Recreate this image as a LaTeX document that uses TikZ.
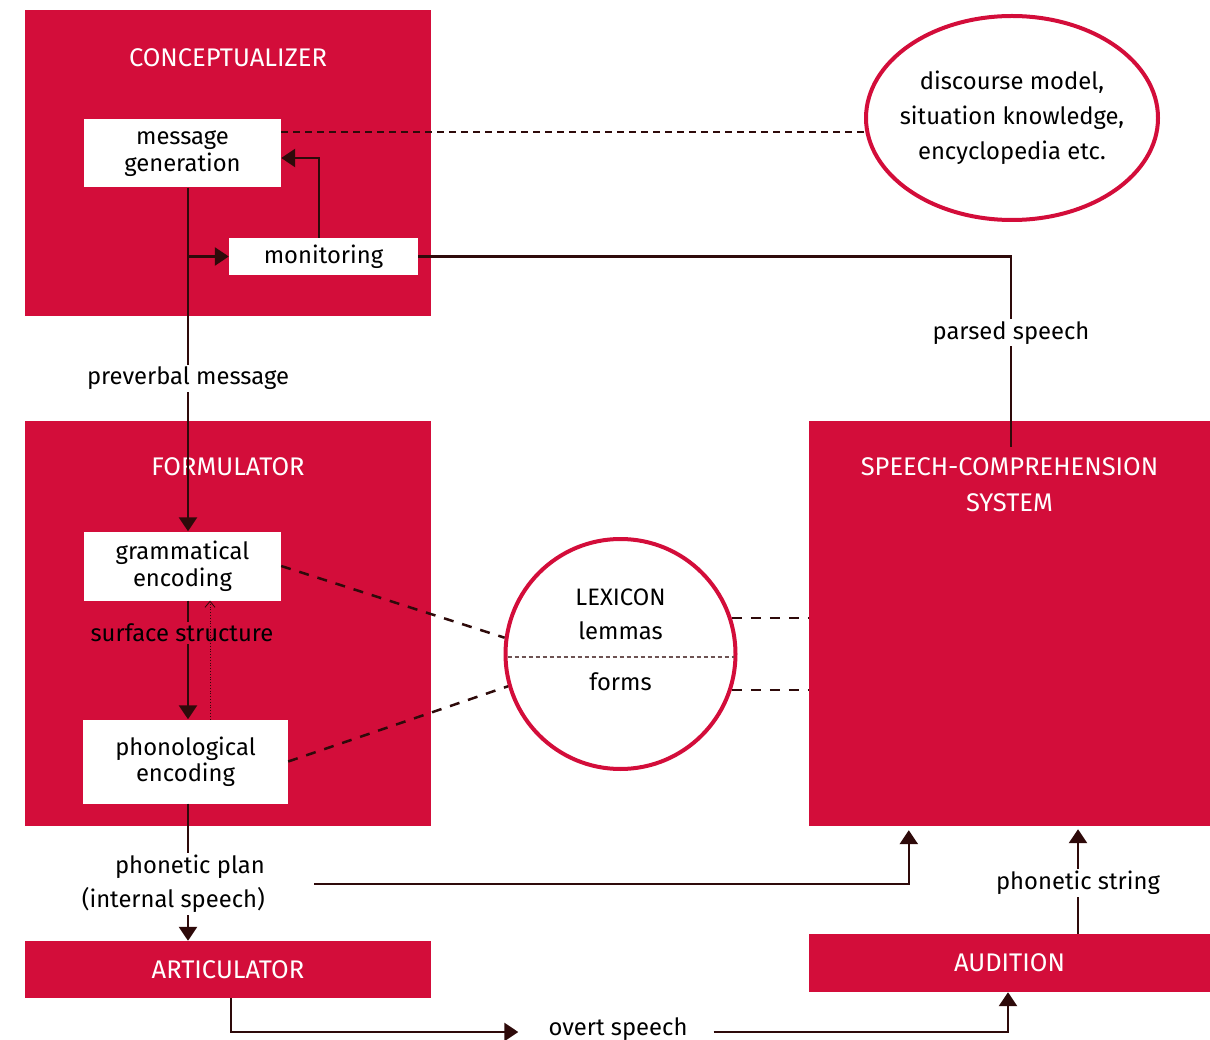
\documentclass[tikz,border=0pt]{standalone}
\usepackage{fontspec}
\setmainfont{Fira Sans}
\usetikzlibrary{arrows.meta, calc, shapes.geometric, positioning}
\definecolor{levred}{RGB}{211,13,58}
\definecolor{levline}{RGB}{46,10,10}

\begin{document}
\begin{tikzpicture}[x=1pt, y=-1pt,
  font=\fontsize{23.8}{26}\selectfont,
  module/.style={fill=levred, inner sep=0pt},
  component/.style={fill=white, inner sep=0pt, align=center, font=\fontsize{23.8}{26.5}\selectfont},
  title/.style={text=white, align=center, font=\fontsize{25.5}{36}\selectfont},
  store/.style={draw=levred, line width=4pt, fill=white, align=center, inner sep=0pt, font=\fontsize{23.8}{35}\selectfont},
  lbl/.style={fill=white, inner sep=2pt},
  flow/.style={draw=levline, line width=2.5pt, -{Triangle[width=18pt,length=14pt]}},
  link/.style={draw=levline, line width=2.5pt},
  dashlink/.style={draw=levline, line width=2.5pt, dash pattern=on 10pt off 9pt},
]
\useasboundingbox (0,0) rectangle (1210,1040);

% Processing components
\node[module, minimum width=406pt, minimum height=306pt] (concept) at (228,163) {};
\node[title] (concepttitle) at (228,58) {CONCEPTUALIZER};
\node[component, minimum width=197pt, minimum height=68pt] (msg) at (182.5,153.5) {message\\generation};
\node[component, minimum width=189pt, minimum height=37pt] (mon) at (323.5,256.5) {monitoring};
\node[store, ellipse, inner xsep=-11pt, minimum width=292pt, minimum height=204pt] (world) at (1012,118) {discourse model,\\situation knowledge,\\encyclopedia etc.};

\node[module, minimum width=406pt, minimum height=405pt] (form) at (228,623.5) {};
\node[title] (formtitle) at (228,467) {FORMULATOR};
\node[component, minimum width=197pt, minimum height=69pt] (gram) at (182.5,566) {grammatical\\encoding};
\node[component, minimum width=205pt, minimum height=84pt] (phon) at (185.5,761.5) {phonological\\encoding};

\node[store, circle, minimum size=230pt] (lex) at (620.5,654) {};
\node (lextitle) at (620.5,597) {LEXICON};
\node (lemmas) at (620.5,631) {lemmas};
\node (forms) at (620.5,682) {forms};

\node[module, minimum width=401pt, minimum height=405pt] (speech) at (1009.5,623.5) {};
\node[title] (speechtitle) at (1009.5,485) {SPEECH-COMPREHENSION\\SYSTEM};

\node[module, text=white, font=\fontsize{25.5}{30}\selectfont, minimum width=406pt, minimum height=57pt] (artic) at (228,969.5) {ARTICULATOR};
\node[module, text=white, font=\fontsize{25.5}{30}\selectfont, minimum width=401pt, minimum height=58pt] (aud) at (1009.5,963) {AUDITION};

% Connections
\coordinate (msgdash) at ($(msg.east)+(0,-21.5)$);
\draw[dashlink, dash pattern=on 7pt off 5pt] (msgdash) -- (msgdash -| world.west);
\draw[flow] ($(mon.north)+(-4.5,0)$) |- ($(msg.east)+(0,4.5)$);

\coordinate (spine) at ($(msg.south)+(5.5,0)$);
\draw[flow] (spine) -- node[lbl, pos=0.555]{preverbal message} (spine |- gram.north);
\draw[flow] (spine |- mon.west) -- (mon.west);
\draw[link] (mon.east) -| node[lbl, pos=0.7]{parsed speech} ($(speech.north)+(1.5,26)$);

\draw[flow] ($(gram.south)+(5.5,0)$) -- node[lbl, fill=levred, pos=0.27, xshift=-6pt]{surface structure} ($(phon.north)+(2.5,0)$);
\draw[levline, line width=0.8pt, dotted, -{Straight Barb[width=10pt,length=6pt]}] ($(phon.north)+(24.5,0)$) -- ($(gram.south)+(27.5,0)$);

\draw[dashlink] (gram.east) -- (lex.172);
\draw[dashlink] (phon.east) -- (lex.196);
\draw[dashlink] (lex.18) -- (lex.18 -| speech.west);
\draw[dashlink] (lex.-18) -- (lex.-18 -| speech.west);
\draw[levline!70, line width=1.2pt, dash pattern=on 4pt off 3pt] ($(lex.west)+(4,3)$) -- ($(lex.east)+(-4,3)$);

\coordinate (planout) at ($(phon.south)+(2.5,0)$);
\draw[flow] (planout) -- (planout |- artic.north);
\node[lbl, align=right, anchor=east, font=\fontsize{23.8}{34}\selectfont] (plan) at (267,884) {phonetic plan\\(internal speech)};
\draw[flow] ($(plan.east)+(47,0)$) -| ($(speech.south west)+(100,4)$);

\coordinate (audout) at ($(aud.north)+(68.5,0)$);
\draw[flow, shorten >=3pt] (audout) -- node[lbl, yshift=-3pt]{phonetic string} (audout |- speech.south);

\node[lbl] (overt) at (618,1029) {overt speech};
\draw[flow] ($(artic.south)+(3,0)$) |- ($(overt.west)+(-28,3)$);
\draw[flow] ($(overt.east)+(24,3)$) -| ($(aud.south)+(-1.5,0)$);

\end{tikzpicture}
\end{document}
